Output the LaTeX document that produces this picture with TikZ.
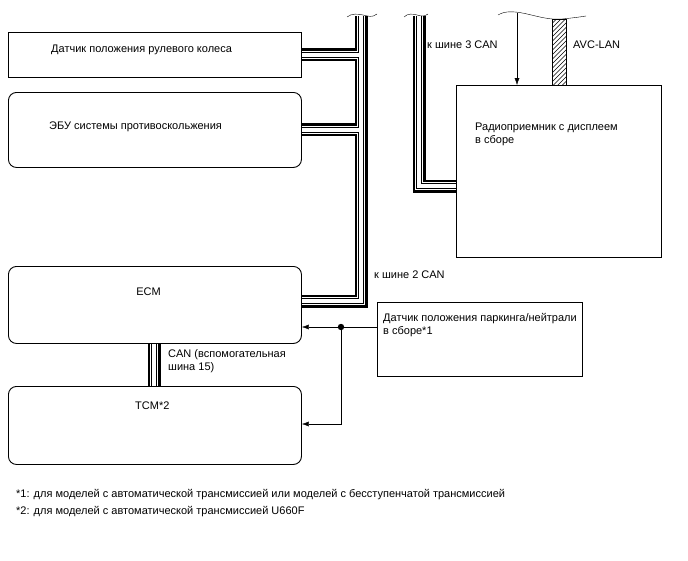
\documentclass[tikz,border=0pt]{standalone}
\usepackage{fontspec}
\setmainfont{Liberation Sans}
\usetikzlibrary{arrows.meta,patterns}
\tikzset{>={Latex[length=7pt,width=5pt]}}

% one CAN pair, drawn as stacked strokes so that branches open into the bus
\newcommand{\canpair}[1]{%
  \draw[line width=13pt] #1;
  \draw[white,line width=8.4pt] #1;
  \draw[line width=5.4pt] #1;
  \draw[white,line width=3.6pt] #1;}

\begin{document}
\begin{tikzpicture}[x=1pt,y=-1pt,font=\fontsize{11}{13}\selectfont,
    box/.style={draw,line width=0.9pt,anchor=north west,inner sep=0pt},
    rbox/.style={box,rounded corners=8pt},
    txt/.style={anchor=west,inner sep=0pt,align=left}]
    \useasboundingbox (0,0) rectangle (688,560);

    % left column
    \node[box,minimum width=293pt,minimum height=45pt] (ssens) at (8,32) {};
    \node[rbox,minimum width=293pt,minimum height=75pt] (abs) at (8,92) {};
    \node[rbox,minimum width=293pt,minimum height=77pt] (ecm) at (8,266) {};
    \node[rbox,minimum width=293pt,minimum height=78pt] (tcm) at (8,386) {};
    \node[txt] (ssenstxt) at (51,50) {Датчик положения рулевого колеса};
    \node[txt] (abstxt) at (49,127) {ЭБУ системы противоскольжения};
    \node[inner sep=0pt] (ecmtxt) at (148.5,292) {ECM};
    \node[txt] (tcmtxt) at (135,406) {TCM*2};

    % right column
    \node[box,minimum width=205pt,minimum height=172pt] (radio) at (456,85) {};
    \node[box,minimum width=205pt,minimum height=74pt] (pnsw) at (377,302) {};
    \node[txt] (radiotxt) at (475,134.5) {Радиоприемник с дисплеем\\в сборе};
    \node[txt] (pnswtxt) at (383,325) {Датчик положения паркинга/нейтрали\\в сборе*1};

    % CAN buses
    \coordinate (mtop) at (361,16);
    \coordinate (mbend) at (361,301);
    \coordinate (rtop) at (419,16);
    \coordinate (rbend) at (419,186);
    \coordinate (subx) at (154,360);
    \canpair{(mtop) -- (mbend) -- (ecm.east |- mbend) (ssens.east -| mtop) -- (ssens.east) (abs.east -| mtop) -- (abs.east)}
    \canpair{(rtop) -- (rbend) -- (radio.west |- rbend)}
    \canpair{(ecm.south -| subx) -- (tcm.north -| subx)}
    \draw (347,17) .. controls (352,13) and (358,14) .. (363,15) .. controls (368,16) and (372,18) .. (377,14);
    \draw (404,17) .. controls (408,13) and (413,14) .. (417,15) .. controls (421,16) and (424,17) .. (428,14);
    \node[txt] (can3) at (427,45) {к шине 3 CAN};
    \node[txt] (can2) at (374,275) {к шине 2 CAN};
    \node[txt] (can15) at (168,361.5) {CAN (вспомогательная\\шина 15)};

    % radio inputs
    \coordinate (atop) at (517,13);
    \draw (498,15) .. controls (505,11) and (512,11) .. (525,13.5) .. controls (540,17) and (550,20) .. (562,19) .. controls (572,18) and (580,17) .. (586,16);
    \draw[->] (atop) -- (radio.north -| atop);
    \begin{scope}
      \clip (552,19) rectangle (566,85);
      \foreach \h in {0,4.5,...,90}
        \draw[line width=0.6pt] (552,19+\h) -- ++(20,-20);
    \end{scope}
    \draw (552,19) rectangle (566,85);
    \node[txt] (avc) at (573,45) {AVC-LAN};

    % park/neutral signal
    \coordinate (jn) at (341,327);
    \coordinate (tcmin) at (341,424);
    \draw[->] (pnsw.west |- jn) -- (ecm.east |- jn);
    \draw[->] (jn) -- (tcmin) -- (tcm.east |- tcmin);
    \fill (jn) circle (3.2);

    % notes
    \node[txt] (note1) at (16,495) {*1: для моделей с автоматической трансмиссией или моделей с бесступенчатой трансмиссией};
    \node[txt] (note2) at (16,512) {*2: для моделей с автоматической трансмиссией U660F};
  \end{tikzpicture}
\end{document}
